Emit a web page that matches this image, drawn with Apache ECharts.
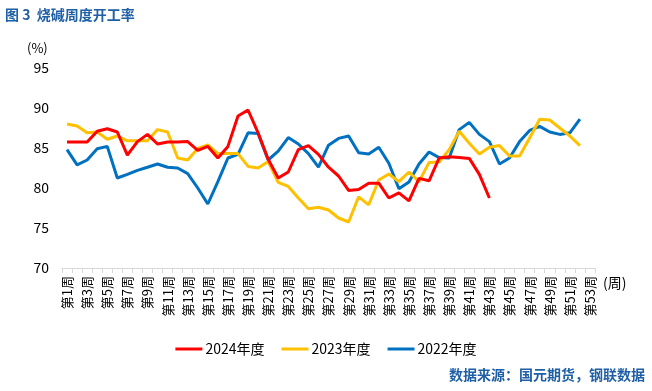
<!DOCTYPE html>
<html>
<head>
<meta charset="utf-8">
<script src="https://cdn.jsdelivr.net/npm/echarts@6/dist/echarts.min.js"></script>
<style>
html,body{margin:0;padding:0;background:#fff;}
#c{width:652px;height:391px;}
</style>
</head>
<body>
<div id="c"></div>
<script>
var weeks = [];
for (var w = 1; w <= 53; w++) weeks.push('第' + w + '周');

var yTicks = [70, 75, 80, 85, 90, 95];

var s2024 = [85.75,85.75,85.75,87.1,87.4,87.0,84.1,85.8,86.7,85.5,
             85.75,85.75,85.8,84.7,85.2,83.75,85.2,89.0,89.75,86.9,
             83.6,81.25,82.0,84.8,85.3,84.2,82.6,81.5,79.7,79.8,
             80.6,80.6,78.75,79.4,78.4,81.2,80.9,83.75,83.9,83.8,
             83.7,81.7,78.75];

var s2023 = [88.0,87.75,86.9,87.0,86.1,86.5,85.9,85.9,85.9,87.3,
             87.0,83.75,83.5,84.95,85.4,84.3,84.3,84.3,82.7,82.5,
             83.3,80.7,80.2,78.75,77.4,77.6,77.25,76.25,75.75,78.9,
             77.9,81.0,81.75,80.8,82.0,80.8,83.2,83.25,84.8,87.1,
             85.6,84.25,85.1,85.3,84.0,84.0,86.25,88.6,88.5,87.5,
             86.5,85.3];

var s2022 = [84.8,82.9,83.5,84.9,85.2,81.25,81.7,82.2,82.6,83.0,
             82.6,82.5,81.8,80.0,78.0,80.8,83.75,84.2,86.9,86.8,
             83.5,84.6,86.3,85.5,84.3,82.6,85.35,86.2,86.5,84.4,
             84.25,85.1,83.1,79.9,80.75,83.0,84.5,83.8,83.75,87.3,
             88.2,86.7,85.8,83.0,83.75,85.8,87.2,87.7,87.0,86.7,
             86.9,88.6];

var seriesNames = ['2024年度', '2023年度', '2022年度'];
var seriesColors = ['#FF0000', '#FFC000', '#0070C0'];
var seriesData = [s2024, s2023, s2022];

var font = '"Noto Sans CJK SC", "Microsoft YaHei", sans-serif';
var chart = echarts.init(document.getElementById('c'));
chart.setOption({
  animation: false,
  backgroundColor: '#ffffff',
  textStyle: { fontFamily: font },
  grid: { left: 62, right: 57, top: 68, bottom: 123, containLabel: false },
  legend: {
    data: seriesNames,
    top: 337,
    left: 'center',
    itemWidth: 27,
    itemHeight: 3,
    itemGap: 17,
    icon: 'rect',
    textStyle: { fontSize: 14, color: '#000', fontFamily: font, padding: [0, 0, 0, -2] }
  },
  graphic: [
    { type: 'text', left: 5, top: 8,
      style: { text: '图 3  烧碱周度开工率', fill: '#1F5FA6', font: 'bold 14px ' + font } },
    { type: 'text', left: 27, top: 42,
      style: { text: '(%)', fill: '#000', font: '13px ' + font } },
    { type: 'text', left: 603, top: 276,
      style: { text: '(周)', fill: '#000', font: '14px ' + font } },
    { type: 'text', right: 7, top: 368,
      style: { text: '数据来源：国元期货，钢联数据', fill: '#1F5FA6', font: 'bold 14px ' + font } }
  ],
  xAxis: {
    type: 'category',
    data: weeks,
    boundaryGap: true,
    axisLine: { lineStyle: { color: '#D9D9D9', width: 1 } },
    axisTick: { show: true, interval: 0, length: 5, lineStyle: { color: '#D9D9D9' } },
    axisLabel: { interval: 1, rotate: 90, fontSize: 13, color: '#000', margin: 8, fontFamily: font },
    splitLine: { show: false }
  },
  yAxis: {
    type: 'value',
    min: yTicks[0],
    max: yTicks[yTicks.length - 1],
    interval: 5,
    axisLine: { show: false },
    axisTick: { show: false },
    splitLine: { show: false },
    axisLabel: { fontSize: 14, color: '#000', margin: 13, fontFamily: font }
  },
  series: seriesData.map(function (d, i) {
    return {
      name: seriesNames[i],
      type: 'line',
      data: d,
      symbol: 'none',
      smooth: false,
      lineStyle: { width: 3, color: seriesColors[i] },
      itemStyle: { color: seriesColors[i] },
      z: 10 - i
    };
  })
});
</script>
</body>
</html>
